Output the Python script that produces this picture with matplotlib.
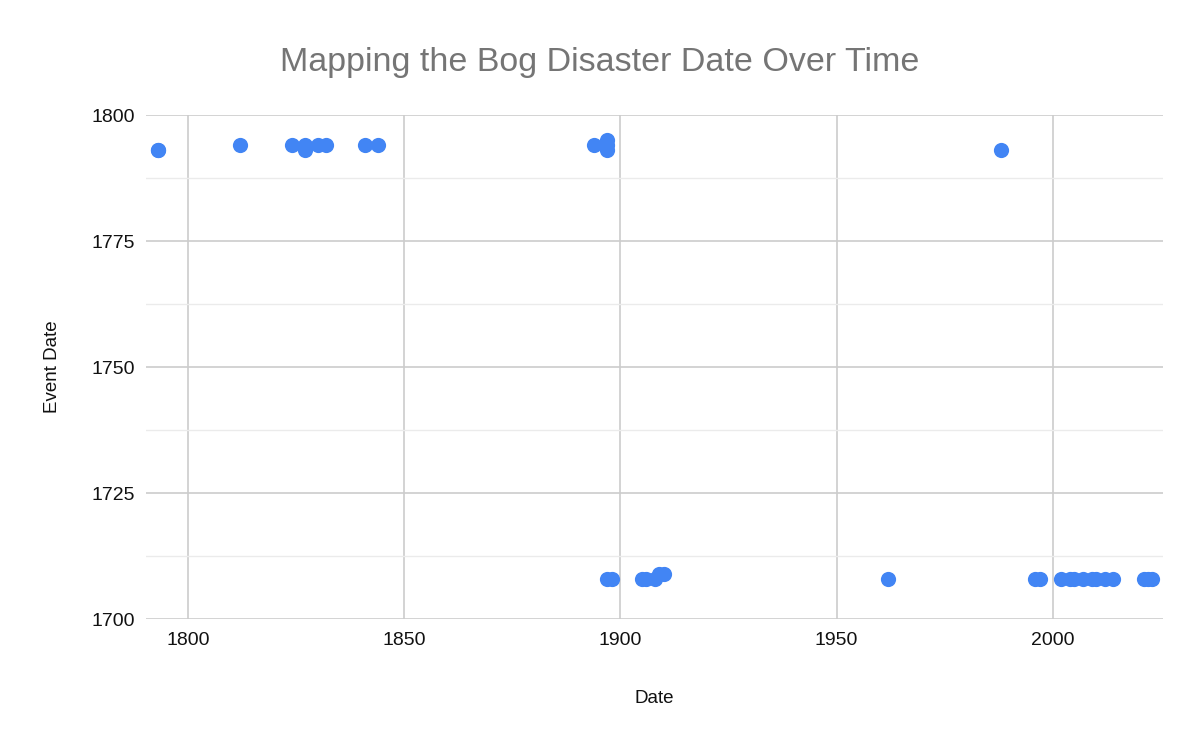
import matplotlib.pyplot as plt
from matplotlib.ticker import MultipleLocator

plt.rcParams['font.family'] = ['Liberation Sans', 'DejaVu Sans']

# date the article was written vs. date it gives for the bog disaster
dates = [1793, 1793, 1812, 1824, 1827, 1827, 1830, 1832, 1841, 1844,
         1894, 1897, 1897, 1897, 1988,
         1897, 1898, 1905, 1906, 1908, 1909, 1910, 1962,
         1996, 1997, 2002, 2004, 2005, 2007, 2009, 2010, 2012, 2014,
         2021, 2022, 2023]
event_dates = [1793, 1793, 1794, 1794, 1794, 1793, 1794, 1794, 1794, 1794,
               1794, 1795, 1794, 1793, 1793,
               1708, 1708, 1708, 1708, 1708, 1709, 1709, 1708,
               1708, 1708, 1708, 1708, 1708, 1708, 1708, 1708, 1708, 1708,
               1708, 1708, 1708]

fig = plt.figure(figsize=(12, 7.45), dpi=100)
ax = fig.add_axes([0.1217, 0.169, 0.8475, 0.6766])

ax.scatter(dates, event_dates, s=120, color='#4285F4', zorder=3, linewidths=0)

ax.set_xlim(1790.3, 2025.5)
ax.set_ylim(1700, 1800)
ax.xaxis.set_major_locator(MultipleLocator(50))
ax.yaxis.set_major_locator(MultipleLocator(25))
ax.yaxis.set_minor_locator(MultipleLocator(12.5))
ax.grid(True, which='major', color='#cccccc', linewidth=1.2)
ax.grid(True, which='minor', axis='y', color='#ebebeb', linewidth=1.0)
ax.set_axisbelow(True)
for s in ax.spines.values():
    s.set_visible(False)
ax.tick_params(which='both', length=0, labelsize=14, colors='#111111')
ax.tick_params(axis='x', pad=9)
ax.tick_params(axis='y', pad=8)

ax.set_xlabel('Date', fontsize=13.5, color='#111111', labelpad=30)
ax.set_ylabel('Event Date', fontsize=13.5, color='#111111', labelpad=22)
fig.suptitle('Mapping the Bog Disaster Date Over Time', fontsize=24.5,
             color='#757575', x=0.5, y=0.937)

fig.savefig('out.png', dpi=100)
